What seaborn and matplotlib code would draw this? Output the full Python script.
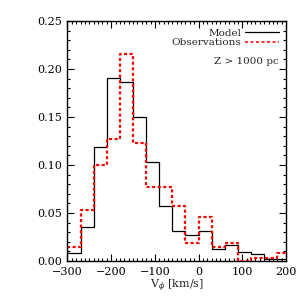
import numpy as np
import pandas as pd
import matplotlib
matplotlib.use("Agg")
import matplotlib.pyplot as plt
import seaborn as sns
from matplotlib.ticker import MultipleLocator, FormatStrFormatter
from matplotlib.lines import Line2D

# histogram bins (km/s) and normalised fractions
bin_edges = [-300, -270, -240, -210, -180, -150, -120, -90, -60, -30,
             0, 30, 60, 90, 120, 150, 180, 210]
model = [0.008, 0.036, 0.119, 0.191, 0.186, 0.150, 0.103, 0.057, 0.031,
         0.027, 0.031, 0.013, 0.017, 0.009, 0.007, 0.002, 0.002]
observations = [0.015, 0.053, 0.100, 0.127, 0.216, 0.123, 0.077, 0.077, 0.057,
                0.019, 0.046, 0.015, 0.019, 0.000, 0.003, 0.003, 0.008]

centers = [(a + b) / 2 for a, b in zip(bin_edges[:-1], bin_edges[1:])]
df = pd.DataFrame({"v": centers, "model": model, "obs": observations})

sns.set_style("ticks")
plt.rcParams["font.family"] = ["DejaVu Serif"]
plt.rcParams["mathtext.fontset"] = "dejavuserif"

fig = plt.figure(figsize=(3.05, 3.05), dpi=100)
ax = fig.add_axes([0.221, 0.144, 0.717, 0.787])

dash = (0, (1.4, 1.1))
sns.histplot(data=df, x="v", weights="model", bins=bin_edges, element="step",
             fill=False, color="black", linewidth=0.9, ax=ax)
sns.histplot(data=df, x="v", weights="obs", bins=bin_edges, element="step",
             fill=False, color="red", linewidth=1.6, linestyle=dash, ax=ax)

ax.set_xlim(-300, 200)
ax.set_ylim(0, 0.25)
ax.xaxis.set_major_locator(MultipleLocator(100))
ax.xaxis.set_minor_locator(MultipleLocator(10))
ax.yaxis.set_major_locator(MultipleLocator(0.05))
ax.yaxis.set_minor_locator(MultipleLocator(0.01))
ax.yaxis.set_major_formatter(FormatStrFormatter("%.2f"))
ax.tick_params(which="both", direction="in", top=True, right=True,
               labelsize=8, width=0.8, colors="black")
ax.tick_params(which="major", length=5, pad=4)
ax.tick_params(which="minor", length=2.5)
for s in ax.spines.values():
    s.set_linewidth(1.0)
    s.set_color("black")

ax.set_xlabel(r"V$_\phi$ [km/s]", fontsize=8, labelpad=1)
ax.set_ylabel("")

handles = [Line2D([], [], color="black", linewidth=0.9),
           Line2D([], [], color="red", linewidth=1.1, linestyle=(0, (2, 1.6)))]
ax.legend(handles, ["Model", "Observations"], loc="upper right", frameon=False,
          markerfirst=False, fontsize=7.5, handlelength=3.2, handletextpad=0.4,
          labelspacing=0.05, borderaxespad=0.3)
ax.text(0.965, 0.83, "Z > 1000 pc", transform=ax.transAxes, ha="right",
        va="center", fontsize=7.5)

fig.savefig("out.png", dpi=100)
